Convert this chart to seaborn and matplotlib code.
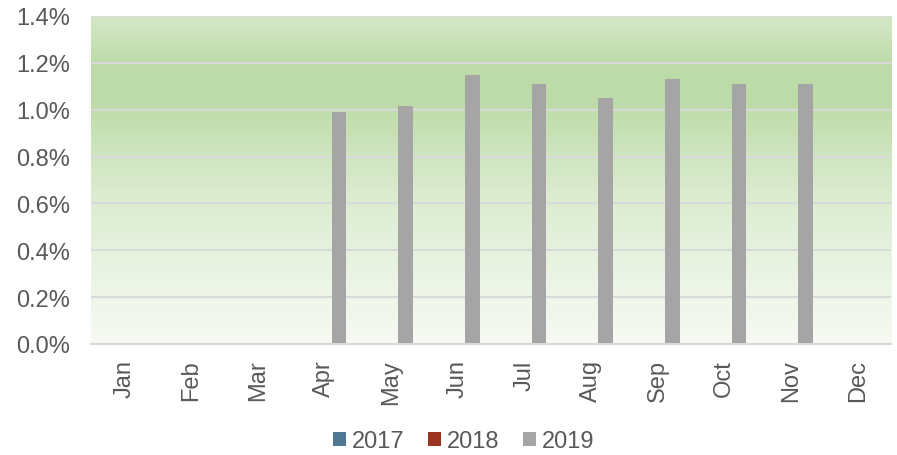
import numpy as np
import pandas as pd
import matplotlib
matplotlib.use("Agg")
import matplotlib.pyplot as plt
from matplotlib.colors import LinearSegmentedColormap
from matplotlib.patches import Patch
from matplotlib.ticker import FuncFormatter, MultipleLocator
import seaborn as sns

months = ["Jan", "Feb", "Mar", "Apr", "May", "Jun", "Jul", "Aug", "Sep", "Oct", "Nov", "Dec"]
years = ["2017", "2018", "2019"]
rate_2017 = [np.nan] * 12
rate_2018 = [np.nan] * 12
rate_2019 = [np.nan, np.nan, np.nan, 0.99, 1.015, 1.15, 1.11, 1.05, 1.13, 1.11, 1.11, np.nan]
colors = {"2017": "#4f7894", "2018": "#9c3422", "2019": "#a5a5a5"}

df = pd.DataFrame({"month": months, "2017": rate_2017, "2018": rate_2018, "2019": rate_2019})
long = df.melt(id_vars="month", value_vars=years, var_name="year", value_name="rate")

sns.set_theme(style="white")
plt.rcParams["font.family"] = ["Liberation Sans", "DejaVu Sans"]
text_color = "#595959"
fs = 17

fig = plt.figure(figsize=(8.97, 4.56), dpi=100)
ax = fig.add_axes([91 / 897, 1 - 345 / 456, 800 / 897, 328 / 456])

# vertical green gradient behind the plot area
grad = LinearSegmentedColormap.from_list(
    "bg",
    [(0.0, "#f7faf4"), (0.45, "#dcecd1"), (0.74, "#bddba8"), (0.86, "#bedca9"), (1.0, "#d4e7c7")],
)
ax.imshow(np.linspace(0, 1, 256).reshape(-1, 1), cmap=grad, origin="lower",
          extent=(-0.5, 11.5, 0, 1.4), aspect="auto", zorder=0)

sns.barplot(data=long, x="month", y="rate", hue="year", order=months, hue_order=years,
            palette=colors, width=0.66, saturation=1, ax=ax, legend=False,
            linewidth=0, edgecolor="none", zorder=2)

ax.set_xlim(-0.5, 11.5)
ax.set_ylim(0, 1.4)
ax.yaxis.set_major_locator(MultipleLocator(0.2))
ax.yaxis.set_major_formatter(FuncFormatter(lambda v, _: f"{v:.1f}%"))
ax.set_axisbelow(True)
ax.grid(axis="y", color="#d9d9d9", linewidth=1.5, zorder=1)
ax.grid(axis="x", visible=False)
for s in ["left", "right", "top"]:
    ax.spines[s].set_visible(False)
ax.spines["bottom"].set_color("#d9d9d9")
ax.spines["bottom"].set_linewidth(1.5)

ax.set_xlabel("")
ax.set_ylabel("")
ax.tick_params(axis="x", labelrotation=90, labelsize=fs, colors=text_color, length=0, pad=11)
ax.tick_params(axis="y", labelsize=fs, colors=text_color, length=0, pad=15)

handles = [Patch(facecolor=colors[y], edgecolor="none", label=y) for y in years]
fig.legend(handles=handles, loc="center", bbox_to_anchor=(464 / 897, 1 - 442 / 456), ncol=3,
           frameon=False, fontsize=fs, handlelength=0.55, handleheight=0.55,
           handletextpad=0.25, columnspacing=1.0, labelcolor=text_color)

fig.savefig("out.png", dpi=100)
